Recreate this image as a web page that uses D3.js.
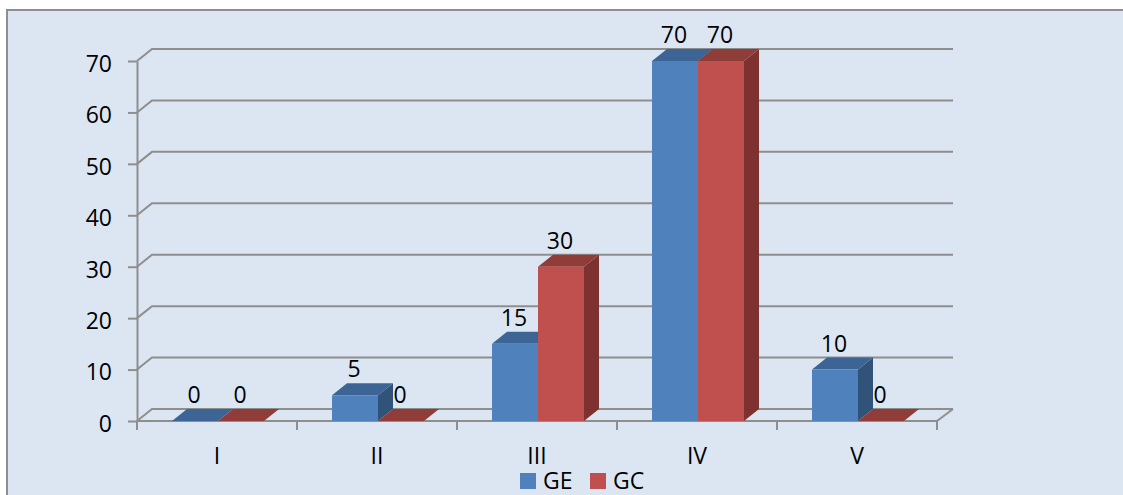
<!doctype html>
<html>

<head>
  <meta charset="utf-8">
  <title>GE GC chart</title>
  <script src="https://d3js.org/d3.v7.min.js"></script>
  <style>
    html, body {
      margin: 0;
      padding: 0;
      background: #fff;
      overflow: hidden;
    }

    svg {
      display: block;
      font-family: "Open Sans", sans-serif;
    }
  </style>
</head>

<body>
  <div id="chart"></div>
  <script>
    const categories = ['I', 'II', 'III', 'IV', 'V'];
    const seriesNames = ['GE', 'GC'];
    const geValues = [0, 5, 15, 70, 10];
    const gcValues = [0, 0, 30, 70, 0];
    const yTicks = [0, 10, 20, 30, 40, 50, 60, 70];

    const colors = {
      GE: { front: '#4f81bd', top: '#3c6494', side: '#325379' },
      GC: { front: '#c0504d', top: '#903c39', side: '#7d3230' }
    };
    const axisColor = '#8e8e8e';

    const width = 1123;
    const height = 495;
    const depthX = 15;
    const depthY = 12;
    const fontSize = 23;

    const svg = d3.select('#chart').append('svg').attr('width', width).attr('height', height);

    // panel
    svg.append('rect')
      .attr('x', 7).attr('y', 10)
      .attr('width', width).attr('height', height)
      .attr('fill', '#dce6f2')
      .attr('stroke', axisColor)
      .attr('stroke-width', 2);

    // bars sit 1px right of the tick marks in the reference
    const x = d3.scaleBand().domain(categories).range([138, 938]).paddingInner(0.425).paddingOuter(0.2125);
    const xSeries = d3.scaleBand().domain(seriesNames).range([0, x.bandwidth()]);
    const y = d3.scaleLinear().domain([0, 70]).range([421, 61]);

    // gridlines on the back wall, with the short slanted part on the side wall
    const grid = svg.append('g').attr('fill', 'none').attr('stroke', axisColor).attr('stroke-width', 2);
    grid.selectAll('path').data(yTicks).join('path')
      .attr('d', d => `M137,${y(d)}L${137 + depthX},${y(d) - depthY}H${938 + depthX}`);
    // floor edge on the right
    grid.append('path').attr('d', `M937,${y(0)}L${938 + depthX},${y(0) - depthY}`);

    // y axis
    const yAxis = svg.append('g').attr('class', 'y-axis').attr('transform', 'translate(137,0)')
      .call(d3.axisLeft(y).tickValues(yTicks).tickSize(9).tickPadding(16).tickSizeOuter(0));
    yAxis.selectAll('path, line').attr('stroke', axisColor).attr('stroke-width', 2);
    yAxis.selectAll('text')
      .attr('font-size', fontSize)
      .attr('fill', '#000')
      .attr('font-family', '"Open Sans", sans-serif')
      .attr('y', 3);

    // x axis
    const boundaries = d3.range(categories.length + 1).map(i => 137 + i * x.step());
    const xAxisG = svg.append('g').attr('class', 'x-axis');
    xAxisG.append('line')
      .attr('x1', 137).attr('x2', 937).attr('y1', y(0)).attr('y2', y(0))
      .attr('stroke', axisColor).attr('stroke-width', 2);
    xAxisG.selectAll('line.tick').data(boundaries).join('line')
      .attr('class', 'tick')
      .attr('x1', d => d).attr('x2', d => d)
      .attr('y1', y(0)).attr('y2', y(0) + 9)
      .attr('stroke', axisColor).attr('stroke-width', 2);
    xAxisG.selectAll('text').data(categories).join('text')
      .attr('x', d => x(d) + x.bandwidth() / 2 - 1)
      .attr('y', 464)
      .attr('text-anchor', 'middle')
      .attr('font-size', fontSize)
      .attr('fill', '#000')
      .text(d => d);

    // bars
    const rows = categories.map((c, i) => ({ category: c, GE: geValues[i], GC: gcValues[i] }));
    const bars = seriesNames.flatMap(s => rows.map(r => ({ series: s, category: r.category, value: r[s] })));
    const barG = svg.append('g').attr('class', 'bars');
    const barW = xSeries.bandwidth();

    const groups = barG.selectAll('g').data(bars).join('g');

    // side face
    groups.append('path')
      .attr('fill', d => colors[d.series].side)
      .attr('d', d => {
        const x1 = x(d.category) + xSeries(d.series) + barW;
        return `M${x1},${y(d.value)}l${depthX},${-depthY}V${y(0) - depthY}L${x1},${y(0)}Z`;
      });
    // top face
    groups.append('path')
      .attr('fill', d => colors[d.series].top)
      .attr('d', d => {
        const x0 = x(d.category) + xSeries(d.series);
        return `M${x0},${y(d.value)}l${depthX},${-depthY}h${barW}l${-depthX},${depthY}Z`;
      });
    // front face
    groups.append('rect')
      .attr('fill', d => colors[d.series].front)
      .attr('x', d => x(d.category) + xSeries(d.series))
      .attr('y', d => y(d.value))
      .attr('width', barW)
      .attr('height', d => y(0) - y(d.value));

    // value labels
    barG.selectAll('text').data(bars).join('text')
      .attr('x', d => x(d.category) + xSeries(d.series) + barW / 2 - 1)
      .attr('y', d => y(d.value) - depthY - 6)
      .attr('text-anchor', 'middle')
      .attr('font-size', fontSize)
      .attr('fill', '#000')
      .text(d => d.value);

    // legend
    const legendX = d3.scalePoint().domain(seriesNames).range([520, 590]);
    const legend = svg.append('g').attr('class', 'legend');
    legend.selectAll('rect').data(seriesNames).join('rect')
      .attr('x', d => legendX(d)).attr('y', 473)
      .attr('width', 16).attr('height', 16)
      .attr('fill', d => colors[d].front);
    legend.selectAll('text').data(seriesNames).join('text')
      .attr('x', d => legendX(d) + 23).attr('y', 489)
      .attr('font-size', fontSize)
      .attr('fill', '#000')
      .text(d => d);
  </script>
</body>

</html>
